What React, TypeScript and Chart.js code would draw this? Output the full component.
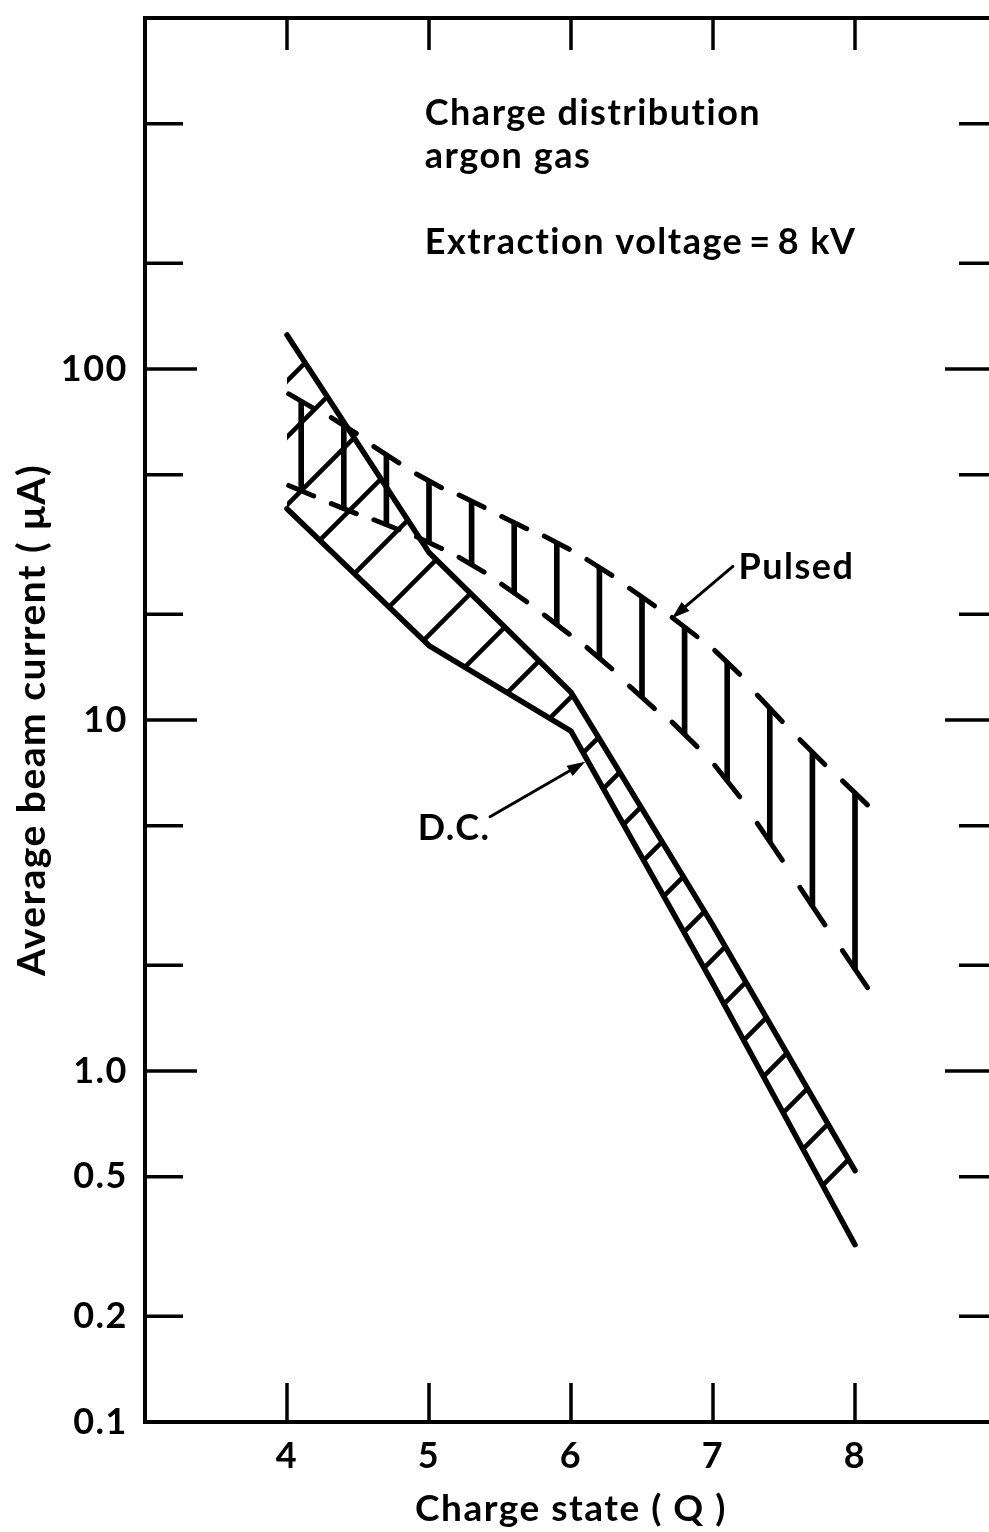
import React, { useEffect, useRef } from 'react';
import { Chart, registerables } from 'chart.js';

Chart.register(...registerables);

// ---------- data ----------
const Q = [4, 5, 6, 7, 8];
const DC_UPPER = [125, 30, 12, 2.6, 0.52];
const DC_LOWER = [40, 16.3, 9.3, 1.77, 0.32];

const PULSED_Q = [4.1, 4.4, 4.7, 5.0, 5.3, 5.6, 5.9, 6.2, 6.5, 6.8, 7.1, 7.4, 7.7, 8.0];
const PULSED_HIGH = [81, 69, 57, 48, 42, 36.5, 32, 27.2, 22.4, 18.4, 14.6, 10.8, 8.1, 6.2];
const PULSED_LOW = [45, 40, 36, 32, 27.7, 23, 18.7, 15, 11.6, 9.1, 6.7, 4.5, 2.95, 1.95];

const X_TICKS = [4, 5, 6, 7, 8];
const Y_TICKS = [0.1, 0.2, 0.5, 1, 2, 5, 10, 20, 50, 100, 200, 500, 1000];
const Y_LABEL_VALUES = [0.1, 0.2, 0.5, 1, 10, 100];
const Y_LABEL_TEXT = ['0.1', '0.2', '0.5', '1.0', '10', '100'];

const X_TITLE = 'Charge state ( Q )';
const Y_TITLE = 'Average beam current ( \u03BCA)';
const NOTE_LINES = ['Charge distribution', 'argon gas', 'Extraction voltage\u2009=\u20098 kV'];
const DC_LABEL = 'D.C.';
const PULSED_LABEL = 'Pulsed';

const FONT = 'Lato, "DejaVu Sans", sans-serif';

function lineTo(ctx: CanvasRenderingContext2D, x1: number, y1: number, x2: number, y2: number) {
  ctx.beginPath();
  ctx.moveTo(x1, y1);
  ctx.lineTo(x2, y2);
  ctx.stroke();
}

function arrow(ctx: CanvasRenderingContext2D, x1: number, y1: number, x2: number, y2: number) {
  const ang = Math.atan2(y2 - y1, x2 - x1);
  const L = 18, W = 6;
  ctx.lineWidth = 3;
  ctx.lineCap = 'round';
  lineTo(ctx, x1, y1, x2 - Math.cos(ang) * L * 0.6, y2 - Math.sin(ang) * L * 0.6);
  ctx.beginPath();
  ctx.moveTo(x2, y2);
  ctx.lineTo(x2 - Math.cos(ang) * L - Math.sin(ang) * W, y2 - Math.sin(ang) * L + Math.cos(ang) * W);
  ctx.lineTo(x2 - Math.cos(ang) * L + Math.sin(ang) * W, y2 - Math.sin(ang) * L - Math.cos(ang) * W);
  ctx.closePath();
  ctx.fill();
}

const decorPlugin = {
  id: 'decor',
  beforeDraw(chart: any) {
    chart.ctx.letterSpacing = '1.5px';
  },
  beforeDatasetsDraw(chart: any) {
    const { ctx, scales } = chart;
    const xs = scales.x, ys = scales.y;
    const up = Q.map((q, i) => [xs.getPixelForValue(q), ys.getPixelForValue(DC_UPPER[i])]);
    const lo = Q.map((q, i) => [xs.getPixelForValue(q), ys.getPixelForValue(DC_LOWER[i])]);
    const mid = up.map((p, i) => [(p[0] + lo[i][0]) / 2, (p[1] + lo[i][1]) / 2]);
    ctx.save();
    ctx.beginPath();
    up.forEach((p, i) => (i ? ctx.lineTo(p[0], p[1]) : ctx.moveTo(p[0], p[1])));
    for (let i = lo.length - 1; i >= 0; i--) ctx.lineTo(lo[i][0], lo[i][1]);
    ctx.closePath();
    ctx.clip();
    ctx.strokeStyle = '#000';
    ctx.lineWidth = 4.5;
    const cStart = up[0][0] + up[0][1];
    const cEnd = up[up.length - 1][0] + up[up.length - 1][1];
    const xSplit = xs.getPixelForValue(6.05);
    let c = cStart + 46;
    while (c < cEnd - 2) {
      lineTo(ctx, c - 3000, 3000, c + 100, -100);
      let cx = mid[mid.length - 1][0];
      for (let i = 0; i < mid.length - 1; i++) {
        const a = mid[i][0] + mid[i][1], b = mid[i + 1][0] + mid[i + 1][1];
        if (c >= a && c <= b) {
          const t = (c - a) / (b - a);
          cx = mid[i][0] + t * (mid[i + 1][0] - mid[i][0]);
          break;
        }
      }
      c += cx < xSplit ? 68 : 56;
    }
    ctx.restore();
  },
  afterDatasetsDraw(chart: any) {
    const { ctx, chartArea, scales } = chart;
    const xs = scales.x, ys = scales.y;
    ctx.save();
    ctx.strokeStyle = '#000';
    ctx.fillStyle = '#000';

    // pulsed serifs (dashes of the bounding lines)
    const tops = PULSED_Q.map((q, i) => [xs.getPixelForValue(q), ys.getPixelForValue(PULSED_HIGH[i])]);
    const bots = PULSED_Q.map((q, i) => [xs.getPixelForValue(q), ys.getPixelForValue(PULSED_LOW[i])]);
    ctx.lineWidth = 5;
    ctx.lineCap = 'round';
    [tops, bots].forEach((pts) => {
      pts.forEach((p, i) => {
        const a = pts[Math.max(0, i - 1)], b = pts[Math.min(pts.length - 1, i + 1)];
        const s = (b[1] - a[1]) / (b[0] - a[0]);
        const h = 12.5;
        lineTo(ctx, p[0] - h, p[1] - h * s, p[0] + h, p[1] + h * s);
      });
    });

    // inward tick marks on all four sides
    ctx.lineWidth = 3.5;
    ctx.lineCap = 'butt';
    Y_TICKS.forEach((v) => {
      if (v <= ys.min || v >= ys.max) return;
      const py = ys.getPixelForValue(v);
      const lg = Math.log10(v);
      const major = Math.abs(lg - Math.round(lg)) < 1e-6;
      const len = major ? 52 : 38;
      lineTo(ctx, chartArea.left, py, chartArea.left + len, py);
      lineTo(ctx, chartArea.right, py, chartArea.right - len, py);
    });
    X_TICKS.forEach((v) => {
      const px = xs.getPixelForValue(v);
      lineTo(ctx, px, chartArea.bottom, px, chartArea.bottom - 39);
      lineTo(ctx, px, chartArea.top, px, chartArea.top + 32);
    });

    // annotations
    ctx.font = `bold 36px ${FONT}`;
    ctx.letterSpacing = '1.5px';
    ctx.textAlign = 'left';
    ctx.textBaseline = 'alphabetic';
    const noteX = xs.getPixelForValue(4.97);
    const noteY = [497, 375, 213];
    NOTE_LINES.forEach((t, i) => ctx.fillText(t, noteX, ys.getPixelForValue(noteY[i])));
    ctx.fillText(DC_LABEL, xs.getPixelForValue(4.92), ys.getPixelForValue(4.56));
    ctx.fillText(PULSED_LABEL, xs.getPixelForValue(7.18), ys.getPixelForValue(25.3));

    arrow(ctx, xs.getPixelForValue(5.43), ys.getPixelForValue(5.3), xs.getPixelForValue(6.1), ys.getPixelForValue(7.6));
    arrow(ctx, xs.getPixelForValue(7.14), ys.getPixelForValue(27.4), xs.getPixelForValue(6.71), ys.getPixelForValue(19.5));
    ctx.restore();
  },
};

export default function App() {
  const ref = useRef<HTMLCanvasElement | null>(null);
  useEffect(() => {
    document.body.style.margin = '0';
    const canvas = ref.current;
    if (!canvas) return;
    const axisFont = { family: FONT, size: 36, weight: 'bold' as const };
    const xTitleFont = { family: FONT, size: 37, weight: 'bold' as const };
    const yTitleFont = { family: FONT, size: 39, weight: 'bold' as const };
    const chart = new Chart(canvas, {
      type: 'line',
      data: {
        datasets: [
          {
            type: 'line',
            label: 'D.C. upper',
            data: Q.map((q, i) => ({ x: q, y: DC_UPPER[i] })),
            borderColor: '#000',
            borderWidth: 5.5,
            pointRadius: 0,
            tension: 0,
            borderCapStyle: 'round',
            borderJoinStyle: 'round',
            fill: false,
          },
          {
            type: 'line',
            label: 'D.C. lower',
            data: Q.map((q, i) => ({ x: q, y: DC_LOWER[i] })),
            borderColor: '#000',
            borderWidth: 5.5,
            pointRadius: 0,
            tension: 0,
            borderCapStyle: 'round',
            borderJoinStyle: 'round',
            fill: false,
          },
          {
            type: 'bar',
            label: 'Pulsed',
            data: PULSED_Q.map((q, i) => ({ x: q, y: [PULSED_LOW[i], PULSED_HIGH[i]] })) as any,
            backgroundColor: '#000',
            borderWidth: 0,
            barThickness: 5,
            grouped: false,
          } as any,
        ],
      },
      options: {
        responsive: false,
        animation: false,
        devicePixelRatio: 1,
        layout: { padding: 0 },
        plugins: { legend: { display: false }, tooltip: { enabled: false } },
        scales: {
          x: {
            type: 'linear',
            position: 'bottom',
            min: 3,
            max: 9,
            offset: false,
            afterBuildTicks: (s: any) => { s.ticks = X_TICKS.map((v) => ({ value: v })); },
            afterFit: (s: any) => { s.height = 110; s.paddingLeft = 0; s.paddingRight = 0; },
            ticks: { autoSkip: false, maxRotation: 0, color: '#000', font: axisFont, padding: 13, callback: (v: any) => String(v) },
            grid: { display: true, drawOnChartArea: false, drawTicks: false },
            border: { display: true, color: '#000', width: 4 },
            title: { display: true, text: X_TITLE, color: '#000', font: xTitleFont, padding: { top: 0, bottom: 1 } },
          },
          x2: {
            type: 'linear',
            position: 'top',
            min: 3,
            max: 9,
            afterFit: (s: any) => { s.height = 18; s.paddingLeft = 0; s.paddingRight = 0; },
            ticks: { display: false },
            grid: { display: true, drawOnChartArea: false, drawTicks: false },
            border: { display: true, color: '#000', width: 4 },
          },
          y: {
            type: 'logarithmic',
            position: 'left',
            min: 0.1,
            max: 1000,
            afterBuildTicks: (s: any) => { s.ticks = Y_TICKS.map((v) => ({ value: v })); },
            afterFit: (s: any) => { s.width = 145; s.paddingTop = 0; s.paddingBottom = 0; },
            ticks: {
              autoSkip: false,
              color: '#000',
              font: axisFont,
              padding: 17,
              callback: (v: any) => {
                const k = Y_LABEL_VALUES.findIndex((u) => Math.abs(u - Number(v)) < 1e-9 * Math.max(1, u));
                return k >= 0 ? Y_LABEL_TEXT[k] : '';
              },
            },
            grid: { display: true, drawOnChartArea: false, drawTicks: false },
            border: { display: true, color: '#000', width: 4 },
            title: { display: true, text: Y_TITLE, color: '#000', font: yTitleFont, padding: { top: 9, bottom: 0 } },
          },
          y2: {
            type: 'logarithmic',
            position: 'right',
            min: 0.1,
            max: 1000,
            afterFit: (s: any) => { s.width = 13; s.paddingTop = 0; s.paddingBottom = 0; },
            ticks: { display: false },
            grid: { display: true, drawOnChartArea: false, drawTicks: false },
            border: { display: true, color: '#000', width: 4 },
          },
        },
      } as any,
      plugins: [decorPlugin],
    });
    return () => chart.destroy();
  }, []);
  return (
    <div style={{ width: 989, height: 1532, overflow: 'hidden', background: '#fff', position: 'relative' }}>
      <canvas ref={ref} width={1010} height={1532} style={{ display: 'block', width: 1010, height: 1532 }} />
    </div>
  );
}
